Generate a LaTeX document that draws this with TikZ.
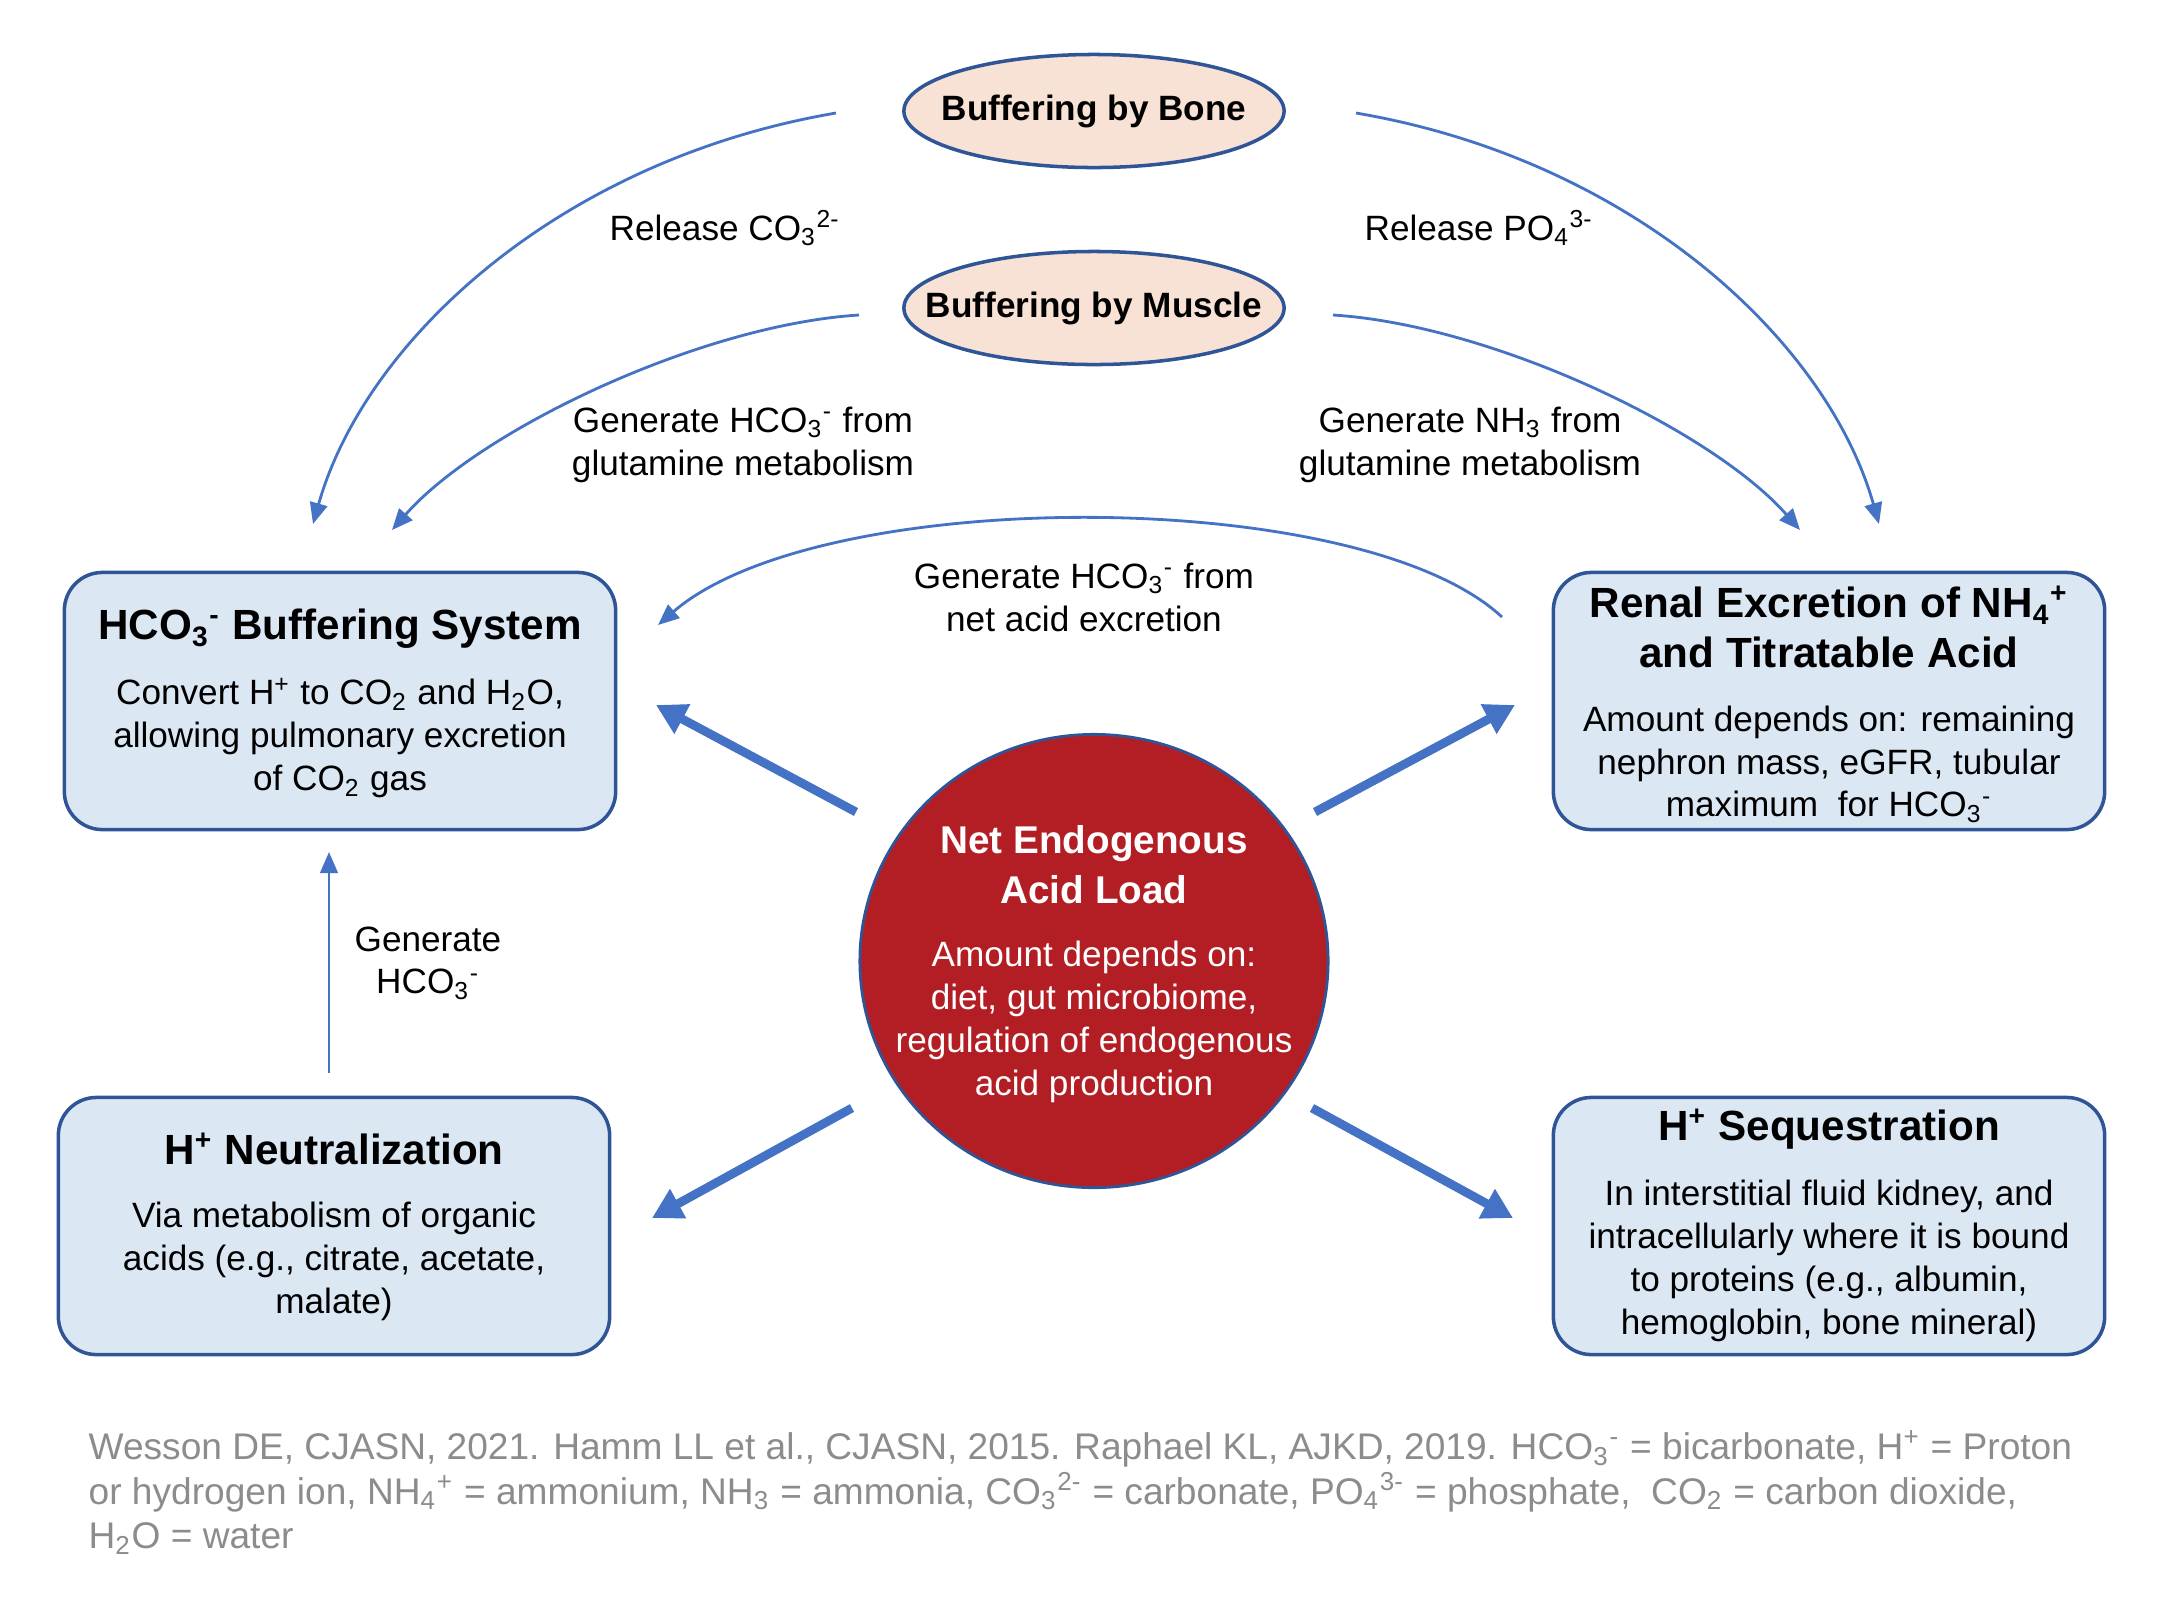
\documentclass[tikz,border=0pt]{standalone}
\usepackage{fontspec}
\setmainfont{Liberation Sans}
\usetikzlibrary{shapes.geometric,arrows.meta}

\definecolor{boxblue}{HTML}{DCE7F4}
\definecolor{edgeblue}{HTML}{2F5597}
\definecolor{arrowblue}{HTML}{4472C4}
\definecolor{peach}{HTML}{F8E2D5}
\definecolor{acidred}{HTML}{B31E25}
\definecolor{notegray}{HTML}{8C8C8C}

\newcommand{\chsub}[1]{\textsubscript{#1}}
\newcommand{\chsup}[1]{\textsuperscript{#1}}

\tikzset{
    infobox/.style={draw=edgeblue, line width=1pt, fill=boxblue, rounded corners=0.38cm,
        minimum width=5.51cm, minimum height=2.57cm, inner sep=0},
    bufell/.style={ellipse, draw=edgeblue, line width=1pt, fill=peach, inner sep=0,
        minimum width=3.8cm, minimum height=1.13cm},
    buftext/.style={inner sep=0, font=\fontsize{10}{12}\selectfont\bfseries},
    acidcirc/.style={ellipse, draw=edgeblue, line width=0.8pt, fill=acidred, inner sep=0,
        minimum width=4.68cm, minimum height=4.53cm},
    boxtitle/.style={align=center, inner sep=0, font=\fontsize{12}{14.2}\selectfont\bfseries},
    boxbody/.style={align=center, inner sep=0, font=\fontsize{10}{12.2}\selectfont},
    lbl/.style={align=center, inner sep=0, font=\fontsize{10}{12.2}\selectfont},
    bigarrow/.style={draw=arrowblue, line width=2.5pt, -{Triangle[length=8.5pt,width=9pt]}},
    thinarrow/.style={draw=arrowblue, line width=0.8pt, -{Triangle[length=6pt,width=5pt]}},
    note/.style={align=left, inner sep=0, text=notegray, font=\fontsize{10.55}{12.6}\selectfont}
}

\begin{document}
\begin{tikzpicture}[x=0.01cm, y=-0.01cm]
    \useasboundingbox (0,0) rectangle (2166,1611);

    % Dem xuong va co
    \node[bufell] (bone) at (1094,111) {};
    \node[buftext] (bonet) at (bone.center) {Buffering by Bone};
    \node[bufell] (muscle) at (1094,308) {};
    \node[buftext] (musclet) at (muscle.center) {Buffering by Muscle};

    % Cac hop
    \node[infobox] (hco) at (340,701) {};
    \node[boxtitle] (hcot) at (340,629) {HCO\chsub{3}\chsup{-} Buffering System};
    \node[boxbody] (hcob) at (340,738) {Convert H\chsup{+} to CO\chsub{2} and H\chsub{2}O,\\allowing pulmonary excretion\\of CO\chsub{2} gas};

    \node[infobox] (neut) at (334,1226) {};
    \node[boxtitle] (neutt) at (334,1149) {H\chsup{+} Neutralization};
    \node[boxbody] (neutb) at (334,1261) {Via metabolism of organic\\acids (e.g., citrate, acetate,\\malate)};

    \node[infobox] (renal) at (1829,701) {};
    \node[boxtitle] (renalt) at (1829,627) {Renal Excretion of NH\chsub{4}\chsup{+}\\and Titratable Acid};
    \node[boxbody] (renalb) at (1829,764) {Amount depends on: remaining\\nephron mass, eGFR, tubular\\maximum\ \ for HCO\chsub{3}\chsup{-}};

    \node[infobox] (seq) at (1829,1226) {};
    \node[boxtitle] (seqt) at (1829,1129) {H\chsup{+} Sequestration};
    \node[boxbody] (seqb) at (1829,1261) {In interstitial fluid kidney, and\\intracellularly where it is bound\\to proteins (e.g., albumin,\\hemoglobin, bone mineral)};

    % Vong tron trung tam
    \node[acidcirc] (nal) at (1094,961) {};
    \node[boxtitle, text=white, font=\fontsize{11}{14.2}\selectfont\bfseries] (nalt) at (1094,865) {Net Endogenous\\Acid Load};
    \node[boxbody, text=white] (nalb) at (1094,1022) {Amount depends on:\\diet, gut microbiome,\\regulation of endogenous\\acid production};

    % Nhan cac mui ten
    \node[lbl] (lco) at (725,228) {Release CO\chsub{3}\chsup{2-}};
    \node[lbl] (lpo) at (1479,228) {Release PO\chsub{4}\chsup{3-}};
    \node[lbl] (lgh) at (743,445) {Generate HCO\chsub{3}\chsup{-} from\\glutamine metabolism};
    \node[lbl] (lgn) at (1470,445) {Generate NH\chsub{3} from\\glutamine metabolism};
    \node[lbl] (lnae) at (1084,597) {Generate HCO\chsub{3}\chsup{-} from\\net acid excretion};
    \node[lbl] (lgen) at (428,963) {Generate\\HCO\chsub{3}\chsup{-}};

    % Dau mut cac mui ten
    \coordinate (bonel) at (836,113);
    \coordinate (boner) at (1356,113);
    \coordinate (musl) at (859,315);
    \coordinate (musr) at (1333,315);
    \coordinate (hcoa) at (313,524);
    \coordinate (hcob2) at (392,530);
    \coordinate (rena) at (1879,524);
    \coordinate (renb) at (1800,530);
    \coordinate (naes) at (1502,617);
    \coordinate (naee) at (658,625);
    \coordinate (neuts) at (329,1073);
    \coordinate (neute) at (329,852);

    % Mui ten cong
    \draw[thinarrow] (bonel) .. controls (560,160) and (365,340) .. (hcoa);
    \draw[thinarrow] (boner) .. controls (1632,160) and (1827,340) .. (rena);
    \draw[thinarrow] (musl) .. controls (700,325) and (480,430) .. (hcob2);
    \draw[thinarrow] (musr) .. controls (1492,325) and (1712,430) .. (renb);
    \draw[thinarrow] (naes) .. controls (1360,485) and (820,485) .. (naee);
    \draw[thinarrow] (neuts) -- (neute);

    % Mui ten dam tu vong tron
    \coordinate (s1) at (856,812);  \coordinate (t1) at (656,705);
    \coordinate (s2) at (1315,812); \coordinate (t2) at (1515,705);
    \coordinate (s3) at (852,1108); \coordinate (t3) at (652,1218);
    \coordinate (s4) at (1312,1108); \coordinate (t4) at (1513,1218);
    \foreach \i in {1,...,4}
        \draw[bigarrow] (s\i) -- (t\i);

    % Chu thich
    \node[note, anchor=north west] (refs) at (88,1430) {Wesson DE, CJASN, 2021. Hamm LL et al., CJASN, 2015. Raphael KL, AJKD, 2019. HCO\chsub{3}\chsup{-} = bicarbonate, H\chsup{+} = Proton\\or hydrogen ion, NH\chsub{4}\chsup{+} = ammonium, NH\chsub{3} = ammonia, CO\chsub{3}\chsup{2-} = carbonate, PO\chsub{4}\chsup{3-} = phosphate,\ \ CO\chsub{2} = carbon dioxide,\\H\chsub{2}O = water};
\end{tikzpicture}
\end{document}
